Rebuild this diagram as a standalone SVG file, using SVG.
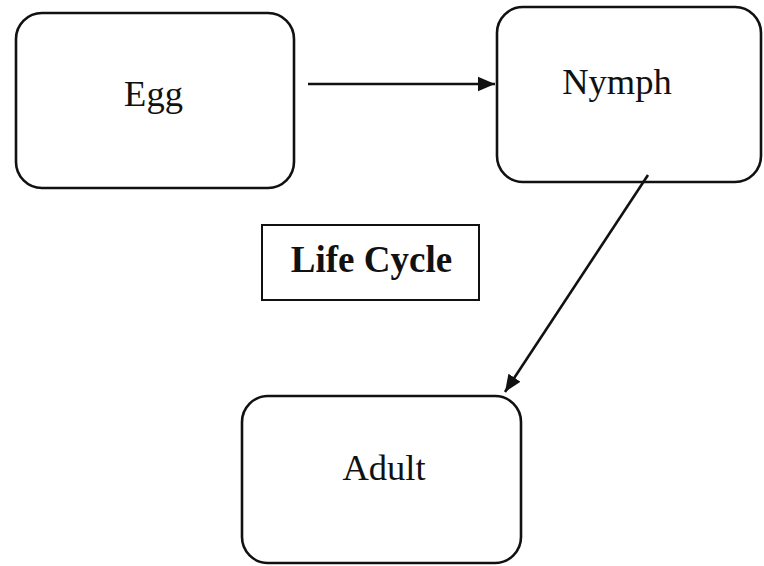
<svg xmlns="http://www.w3.org/2000/svg" width="764" height="566" viewBox="0 0 764 566">
  <style>
    .stage { fill: #ffffff; stroke: #111111; stroke-width: 2.6; }
    .title-box { fill: #ffffff; stroke: #111111; stroke-width: 2; }
    .label { font-family: "Liberation Serif", "Times New Roman", serif; font-size: 36.5px; fill: #111111; text-anchor: middle; }
    .title { font-weight: bold; font-size: 37px; }
    .link { stroke: #111111; stroke-width: 2.6; fill: none; marker-end: url(#head); }
  </style>
  <defs>
    <marker id="head" viewBox="0 0 10 10" refX="10" refY="5" markerWidth="6.6" markerHeight="6.6" orient="auto" markerUnits="strokeWidth">
      <path d="M0,0.8 L10,5 L0,9.2 Z" fill="#111111"/>
    </marker>
  </defs>
  <rect width="764" height="566" fill="#ffffff"/>

  <g id="egg">
    <rect class="stage" x="16" y="13" width="278" height="175" rx="26" ry="26"/>
    <text class="label" x="153.5" y="106">Egg</text>
  </g>

  <g id="nymph">
    <rect class="stage" x="497" y="7" width="264" height="175" rx="26" ry="26"/>
    <text class="label" x="617" y="94">Nymph</text>
  </g>

  <g id="adult">
    <rect class="stage" x="242" y="396" width="279" height="167" rx="26" ry="26"/>
    <text class="label" x="384" y="480">Adult</text>
  </g>

  <g id="life-cycle">
    <rect class="title-box" x="262" y="225" width="217" height="75"/>
    <text class="label title" x="371.5" y="272">Life Cycle</text>
  </g>

  <g id="connectors">
    <line class="link" x1="308" y1="84" x2="495" y2="84"/>
    <line class="link" x1="648" y1="175" x2="505" y2="392"/>
  </g>
</svg>
